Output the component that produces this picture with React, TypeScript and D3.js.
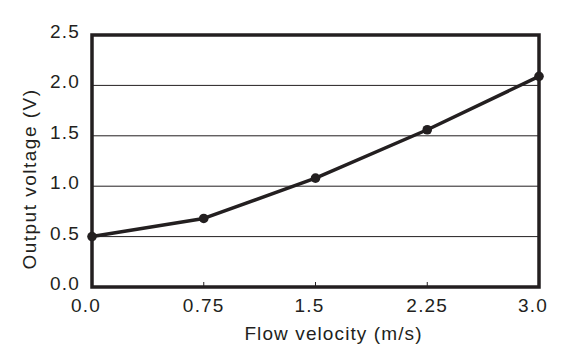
import React from 'react';
import * as d3 from 'd3';

const velocity = [0, 0.75, 1.5, 2.25, 3.0];
const voltage = [0.5, 0.68, 1.08, 1.56, 2.09];
const xTicks = [0, 0.75, 1.5, 2.25, 3.0];
const xTickLabels = ['0.0', '0.75', '1.5', '2.25', '3.0'];
const yTicks = [0, 0.5, 1.0, 1.5, 2.0, 2.5];
const yTickLabels = ['0.0', '0.5', '1.0', '1.5', '2.0', '2.5'];

const W = 568;
const H = 353;
const ink = '#231f20';
const font = '"Liberation Sans", Arial, Helvetica, sans-serif';

const App = () => {
  // plot frame
  const left = 92, right = 539, top = 35, bottom = 287;

  const xScale = d3.scaleLinear().domain([0, 3]).range([left, right]);
  const yScale = d3.scaleLinear().domain([0, 2.5]).range([bottom, top]);

  const points = velocity.map((v, i) => ({ x: v, y: voltage[i] }));
  const line = d3.line<{ x: number; y: number }>()
    .x(d => xScale(d.x))
    .y(d => yScale(d.y));

  return (
    <svg width={W} height={H} style={{ position: 'absolute', left: 0, top: 0, background: '#fff' }}>
      {/* horizontal grid lines */}
      {yTicks.slice(1, -1).map(t => (
        <line key={'g' + t} x1={left} x2={right} y1={yScale(t)} y2={yScale(t)} stroke={ink} strokeWidth={1} />
      ))}

      {/* small inner ticks on x axis */}
      {xTicks.slice(1, -1).map(t => (
        <line key={'t' + t} x1={xScale(t)} x2={xScale(t)} y1={bottom} y2={bottom - 5} stroke={ink} strokeWidth={1} />
      ))}

      {/* frame */}
      <rect x={left} y={top} width={right - left} height={bottom - top} fill="none" stroke={ink} strokeWidth={3.5} />

      {/* data line */}
      <path d={line(points) || ''} fill="none" stroke={ink} strokeWidth={3.5} strokeLinejoin="round" />
      {points.map((p, i) => (
        <circle key={'p' + i} cx={xScale(p.x)} cy={yScale(p.y)} r={4.8} fill={ink} />
      ))}

      {/* y tick labels */}
      {yTicks.map((t, i) => (
        <text key={'yl' + t} x={80} y={yScale(t) + 3} textAnchor="end" fontFamily={font}
          fontSize={19} letterSpacing={1.2} fill={ink}>{yTickLabels[i]}</text>
      ))}

      {/* x tick labels */}
      {xTicks.map((t, i) => (
        <text key={'xl' + t} x={xScale(t) + (xTickLabels[i].length === 3 ? -6 : 0)} y={311.5}
          textAnchor="middle" fontFamily={font} fontSize={19} letterSpacing={1.2} fill={ink}>
          {xTickLabels[i]}
        </text>
      ))}

      {/* axis titles */}
      <text x={(left + right) / 2 + 18} y={340} textAnchor="middle" fontFamily={font}
        fontSize={19} letterSpacing={1.1} fill={ink}>Flow velocity (m/s)</text>
      <text transform="translate(36,179) rotate(-90)" textAnchor="middle" fontFamily={font}
        fontSize={19} letterSpacing={1.5} fill={ink}>Output voltage (V)</text>
    </svg>
  );
};

export default App;
